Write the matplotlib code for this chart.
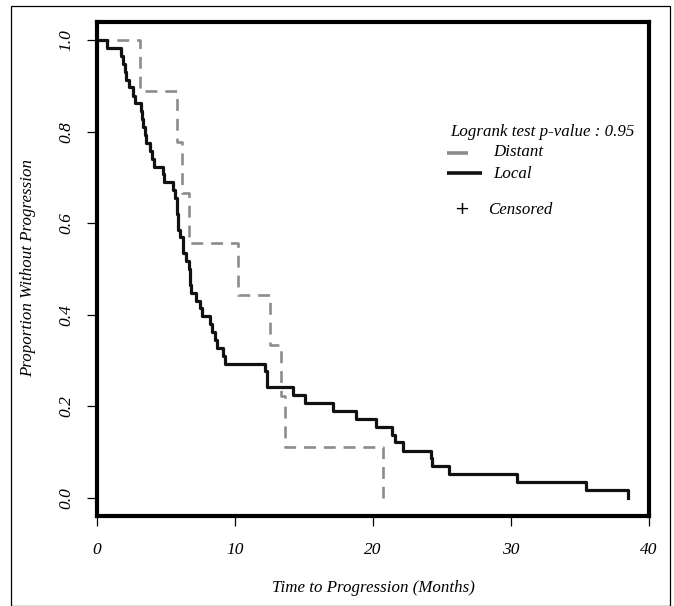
import matplotlib
matplotlib.use("Agg")
import matplotlib.pyplot as plt
from matplotlib.patches import Rectangle
from matplotlib.lines import Line2D

# ---- data ----
local_time = [0, 0.70, 1.74, 1.85, 2.00, 2.10, 2.34, 2.63, 2.75, 3.16,
              3.25, 3.36, 3.45, 3.55, 3.84, 3.96, 4.10, 4.80, 4.85, 5.53,
              5.65, 5.77, 5.80, 5.85, 5.90, 5.99, 6.20, 6.25, 6.45, 6.70,
              6.72, 6.74, 6.80, 7.20, 7.46, 7.60, 8.19, 8.30, 8.55, 8.67,
              9.15, 9.28, 12.17, 12.34, 14.18, 15.07, 17.08, 18.77, 20.20, 21.35,
              21.60, 22.20, 24.20, 24.30, 25.50, 30.40, 35.40, 38.50]
local_surv = [1.0, 0.983, 0.966, 0.948, 0.931, 0.914, 0.897, 0.879, 0.862, 0.845,
              0.828, 0.810, 0.793, 0.776, 0.759, 0.741, 0.724, 0.707, 0.690, 0.672,
              0.655, 0.638, 0.621, 0.603, 0.586, 0.569, 0.552, 0.534, 0.517, 0.500,
              0.483, 0.466, 0.448, 0.431, 0.414, 0.397, 0.379, 0.362, 0.345, 0.328,
              0.310, 0.293, 0.276, 0.241, 0.224, 0.207, 0.190, 0.172, 0.155, 0.138,
              0.121, 0.103, 0.086, 0.069, 0.052, 0.034, 0.017, 0.0]

distant_time = [0, 3.1, 5.8, 6.16, 6.7, 10.2, 12.5, 13.3, 13.6, 20.7]
distant_surv = [1.0, 0.889, 0.778, 0.667, 0.556, 0.444, 0.333, 0.222, 0.111, 0.0]

x_ticks = [0, 10, 20, 30, 40]
y_ticks = [0.0, 0.2, 0.4, 0.6, 0.8, 1.0]
y_tick_labels = ["0.0", "0.2", "0.4", "0.6", "0.8", "1.0"]

xlabel = "Time to Progression (Months)"
ylabel = "Proportion Without Progression"
test_text = "Logrank test p-value : 0.95"
legend_labels = ["Distant", "Local"]
censor_label = "Censored"

# ---- figure ----
W, H = 674, 606
fig = plt.figure(figsize=(W / 100, H / 100), dpi=100)
serif = ["Liberation Serif", "DejaVu Serif"]
fs = 12.2

ax = fig.add_axes([97 / W, 1 - 516 / H, (649 - 97) / W, (516 - 22) / H])

gray = "#8c8c8c"
ax.step(distant_time, distant_surv, where="post", color=gray, lw=1.9,
        dashes=(4.5, 3.0), solid_capstyle="butt")
ax.step(local_time, local_surv, where="post", color="#111111", lw=2.3)

ax.set_xlim(0, 40)
ax.set_ylim(-0.04, 1.04)
ax.set_xticks(x_ticks)
ax.set_xticklabels([str(v) for v in x_ticks], family=serif, style="italic", fontsize=12.5)
ax.set_yticks(y_ticks)
ax.set_yticklabels(y_tick_labels, family=serif, style="italic", fontsize=12.5,
                   rotation=90, va="center")
ax.tick_params(axis="both", direction="out", length=7, width=0.9, color="black")
ax.tick_params(axis="x", pad=12)
ax.tick_params(axis="y", pad=9)
for s in ax.spines.values():
    s.set_linewidth(3.0)
    s.set_color("black")

fig.text(373 / W, 1 - 588 / H, xlabel, family=serif, style="italic",
         fontsize=fs, ha="center", va="center")
fig.text(28 / W, 1 - 268 / H, ylabel, family=serif, style="italic",
         fontsize=fs, ha="center", va="center", rotation=90)

# legend block
fig.text(450 / W, 1 - 132 / H, test_text, family=serif, style="italic",
         fontsize=fs, ha="left", va="center")
fig.add_artist(Line2D([447 / W, 468 / W], [1 - 153 / H, 1 - 153 / H],
                      color=gray, lw=2.6, solid_capstyle="butt"))
fig.text(493 / W, 1 - 152 / H, legend_labels[0], family=serif, style="italic",
         fontsize=fs, ha="left", va="center")
fig.add_artist(Line2D([447 / W, 482 / W], [1 - 173 / H, 1 - 173 / H],
                      color="#111111", lw=2.6, solid_capstyle="butt"))
fig.text(493 / W, 1 - 174 / H, legend_labels[1], family=serif, style="italic",
         fontsize=fs, ha="left", va="center")
fig.text(462 / W, 1 - 209 / H, "+", family="DejaVu Sans", fontsize=13,
         ha="center", va="center")
fig.text(488 / W, 1 - 210 / H, censor_label, family=serif, style="italic",
         fontsize=fs, ha="left", va="center")

# outer frame
fig.add_artist(Rectangle((11 / W, 0.5 / H), (670 - 11) / W, (600 - 0.5) / H,
                         transform=fig.transFigure, fill=False, lw=0.9,
                         edgecolor="black"))

fig.savefig("out.png", dpi=100)
